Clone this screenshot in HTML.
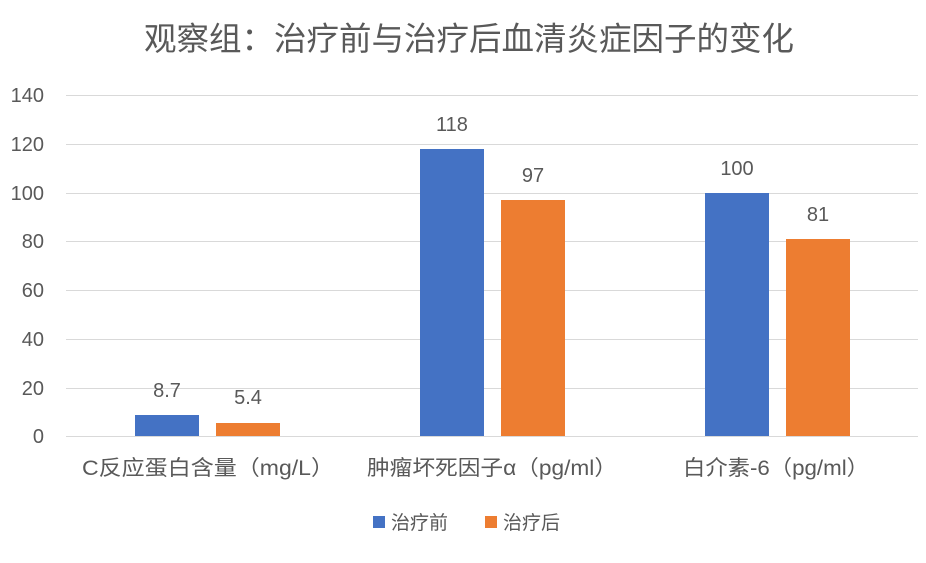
<!DOCTYPE html>
<html><head><meta charset="utf-8"><style>
body{margin:0;background:#fff;}
svg text{font-family:"Liberation Sans","Noto Sans CJK SC",sans-serif;fill:#595959;}
</style></head><body>
<svg width="926" height="558" xmlns="http://www.w3.org/2000/svg">
<rect width="926" height="558" fill="#fff"/>
<text x="469" y="50" font-size="32.5" text-anchor="middle">观察组：治疗前与治疗后血清炎症因子的变化</text>
<g stroke="#d9d9d9" stroke-width="1">
<line x1="66" x2="918" y1="95.5" y2="95.5"/>
<line x1="66" x2="918" y1="144.5" y2="144.5"/>
<line x1="66" x2="918" y1="193.5" y2="193.5"/>
<line x1="66" x2="918" y1="241.5" y2="241.5"/>
<line x1="66" x2="918" y1="290.5" y2="290.5"/>
<line x1="66" x2="918" y1="339.5" y2="339.5"/>
<line x1="66" x2="918" y1="388.5" y2="388.5"/>
<line x1="66" x2="918" y1="436.5" y2="436.5"/>
</g>
<g font-size="20" text-anchor="end">
<text x="44" y="102">140</text><text x="44" y="151">120</text><text x="44" y="200">100</text>
<text x="44" y="248">80</text><text x="44" y="297">60</text><text x="44" y="346">40</text>
<text x="44" y="395">20</text><text x="44" y="443">0</text>
</g>
<g fill="#4472c4">
<rect x="135" y="415" width="64" height="21"/>
<rect x="420" y="149" width="64" height="287"/>
<rect x="705" y="193" width="64" height="243"/>
</g>
<g fill="#ed7d31">
<rect x="216" y="423" width="64" height="13"/>
<rect x="501" y="200" width="64" height="236"/>
<rect x="786" y="239" width="64" height="197"/>
</g>
<g font-size="20" text-anchor="middle">
<text x="167" y="397">8.7</text><text x="248" y="404">5.4</text>
<text x="452" y="131">118</text><text x="533" y="182">97</text>
<text x="737" y="175">100</text><text x="818" y="221">81</text>
</g>
<g font-size="21" text-anchor="middle">
<text x="208" y="475" textLength="252" lengthAdjust="spacingAndGlyphs">C反应蛋白含量（mg/L）</text>
<text x="492" y="475" textLength="250" lengthAdjust="spacingAndGlyphs">肿瘤坏死因子α（pg/ml）</text>
<text x="776" y="475" textLength="186" lengthAdjust="spacingAndGlyphs">白介素-6（pg/ml）</text>
</g>
<rect x="373" y="516" width="12" height="12" fill="#4472c4"/>
<text x="391" y="529" font-size="19">治疗前</text>
<rect x="485" y="516" width="12" height="12" fill="#ed7d31"/>
<text x="503" y="529" font-size="19">治疗后</text>
</svg>
</body></html>
